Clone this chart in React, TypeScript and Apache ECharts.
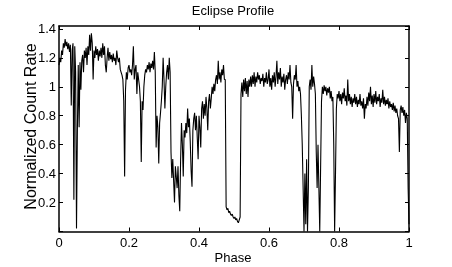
import React, { useEffect, useRef } from "react";
import * as echarts from "echarts";

const TITLE = "Eclipse Profile";
const X_NAME = "Phase";
const Y_NAME = "Normalized Count Rate";
const PHASE_STEP = 0.0025;

// Normalized count rate sampled every 0.0025 in phase
const rate000to025 = [
  1.15, 1.2, 1.17, 1.25, 1.22, 1.3, 1.27, 1.33, 1.28, 1.31, 1.26, 1.3, 1.24, 1.29, 0.87, 1.25, 1.3, 0.22, 1.28, 1.1,
  0.02, 0.7, 1.15, 0.72, 1.17, 0.98, 1.18, 1.22, 1.1, 1.25, 1.2, 1.27, 1.15, 1.28, 1.22, 1.36, 1.25, 1.37, 1.3, 1.05,
  1.25, 1.2, 1.28, 1.22, 1.26, 1.18, 1.25, 1.21, 1.27, 1.2, 1.3, 1.22, 1.28, 1.15, 1.1, 1.2, 1.27, 1.18, 1.24, 1.19,
  1.22, 1.17, 1.23, 1.18, 1.2, 1.15, 1.25, 1.2, 1.17, 1.2, 1.12, 1.1, 1.08, 1.05, 0.9, 0.38, 0.98, 1.1, 1.05, 1.13,
  1.15, 1.1, 1.12, 1.08, 1.15, 1.28, 1.05, 1.12, 1.15, 0.95, 1.1, 1.05, 1.0, 0.9, 0.48, 0.9, 0.84, 1.0, 1.08, 1.12,
];
const rate025to050 = [
  1.1, 1.15, 1.12, 1.17, 1.1, 1.16, 1.13, 1.18, 1.12, 1.24, 1.1, 0.58, 0.8, 0.72, 0.47, 0.75, 0.82, 0.9, 1.0, 1.2,
  1.05, 0.85, 1.0, 1.1, 1.15, 1.05, 1.2, 1.1, 0.55, 0.37, 0.5, 0.35, 0.2, 0.45, 0.38, 0.3, 0.45, 0.25, 0.14, 0.5,
  0.75, 0.6, 0.38, 0.7, 0.65, 0.75, 0.68, 0.85, 0.72, 0.78, 0.62, 0.42, 0.31, 0.7, 0.78, 0.82, 0.7, 0.8, 0.65, 0.5,
  0.8, 0.72, 0.58, 0.85, 0.9, 0.78, 0.88, 0.8, 0.93, 0.85, 0.7, 0.9, 0.95, 0.85, 0.92, 1.0, 0.95, 1.02, 0.97, 1.05,
  1.08, 1.02, 1.18, 1.05, 1.1, 1.03, 1.12, 1.08, 1.15, 1.05, 1.05, 0.17, 0.15, 0.16, 0.13, 0.14, 0.12, 0.11, 0.12, 0.1,
];
const rate050to075 = [
  0.09, 0.1, 0.08, 0.09, 0.07, 0.06, 0.08, 0.1, 0.95, 1.03, 0.93, 1.05, 0.97, 1.06, 0.95, 1.04, 0.93, 1.05, 1.0, 1.07,
  1.0, 1.08, 1.02, 1.1, 1.0, 1.07, 1.03, 1.1, 1.05, 1.08, 1.02, 1.06, 1.04, 1.09, 1.0, 1.06, 1.03, 1.1, 1.02, 1.05,
  1.12, 1.0, 1.06, 0.98, 1.08, 1.03, 1.1, 1.0, 1.07, 1.18, 1.02, 1.1, 1.05, 1.13, 1.0, 1.07, 1.03, 1.09, 0.98, 1.05,
  1.08, 1.02, 1.1, 1.05, 1.15, 1.03, 1.0, 0.78, 1.02, 1.08, 1.05, 1.15, 1.0, 1.04, 0.97, 1.0, 0.95, 0.8, 0.6, 0.3,
  0.0, 0.4, 0.05, 0.5, 0.0, 0.3, 1.0, 1.05, 0.98, 1.15, 1.0, 1.07, 1.02, 0.95, 0.55, 0.3, 0.6, 0.3, 0.0, 0.45,
];
const rate075to100 = [
  0.9, 1.0, 0.95, 1.01, 0.97, 1.0, 0.94, 0.99, 0.96, 1.0, 0.92, 0.97, 0.9, 0.93, 0.6, 0.0, 0.4, 0.85, 0.95, 0.92,
  0.97, 0.9, 0.95, 0.88, 0.96, 0.92, 0.99, 0.9, 0.94, 0.87, 1.05, 0.9, 0.95, 0.88, 0.93, 0.86, 0.92, 0.89, 0.95, 0.88,
  0.93, 0.86, 0.91, 0.88, 0.95, 0.87, 0.9, 0.85, 0.92, 0.78, 0.88, 0.85, 0.93, 0.87, 0.96, 0.9, 1.0, 0.88, 0.94, 0.86,
  0.95, 0.89, 0.97, 0.88, 0.93, 0.9, 0.95, 0.86, 0.92, 0.89, 0.98, 0.88, 0.93, 0.87, 0.91, 0.88, 0.92, 0.85, 0.9, 0.86,
  0.88, 0.84, 0.89, 0.83, 0.87, 0.82, 0.85, 0.8, 0.78, 0.55, 0.84, 0.87, 0.82, 0.86, 0.8, 0.84, 0.75, 0.82, 0.78, 0.3,
  0.05,
];

const FONT = "'Liberation Sans', Arial, Helvetica, sans-serif";

export default function App() {
  const ref = useRef<HTMLDivElement>(null);
  useEffect(() => {
    if (!ref.current) return;
    const chart = echarts.init(ref.current, undefined, { renderer: "svg" });
    const rate = [...rate000to025, ...rate025to050, ...rate050to075, ...rate075to100];
    const data = rate.map((v, i) => [+(i * PHASE_STEP).toFixed(4), v]);
    const xBase = {
      type: "value" as const,
      min: 0,
      max: 1,
      interval: 0.2,
      splitLine: { show: false },
      axisLine: { show: true, onZero: false, lineStyle: { color: "#000", width: 1.5 } },
      axisTick: { show: true, inside: true, length: 4, lineStyle: { color: "#000", width: 1 } },
    };
    const yBase = {
      type: "value" as const,
      min: 0,
      max: 1.42,
      interval: 0.2,
      splitLine: { show: false },
      axisLine: { show: true, onZero: false, lineStyle: { color: "#000", width: 1.5 } },
      axisTick: { show: true, inside: true, length: 4, lineStyle: { color: "#000", width: 1 } },
    };
    const fmt = (v: number) => {
      if (v === 0) return "";
      const r = Math.round(v * 10) / 10;
      if (Math.abs(r - v) > 1e-6) return "";
      return String(r);
    };
    chart.setOption({
      animation: false,
      grid: { left: 59, top: 26, width: 350, height: 205.5, containLabel: false },
      xAxis: [
        {
          ...xBase,
          position: "bottom",
          axisLabel: { show: true, color: "#000", fontSize: 13, fontFamily: FONT, margin: 4, formatter: (v: number) => String(Math.round(v * 10) / 10) },
        },
        { ...xBase, position: "top", axisLabel: { show: false } },
      ],
      yAxis: [
        {
          ...yBase,
          position: "left",
          axisLabel: { show: true, color: "#000", fontSize: 13, fontFamily: FONT, margin: 3, showMaxLabel: false, formatter: fmt },
        },
        { ...yBase, position: "right", axisLabel: { show: false } },
      ],
      series: [
        {
          type: "line",
          data,
          xAxisIndex: 0,
          yAxisIndex: 0,
          showSymbol: false,
          symbol: "none",
          lineStyle: { color: "#000", width: 1.1 },
          clip: true,
        },
      ],
      graphic: [
        {
          type: "text",
          x: 233,
          y: 10.5,
          style: { text: TITLE, fill: "#000", font: `13px ${FONT}`, align: "center", verticalAlign: "middle" },
        },
        {
          type: "text",
          x: 233,
          y: 257,
          style: { text: X_NAME, fill: "#000", font: `13px ${FONT}`, align: "center", verticalAlign: "middle" },
        },
        {
          type: "text",
          x: 30,
          y: 126.5,
          rotation: Math.PI / 2,
          style: { text: Y_NAME, fill: "#000", font: `16px ${FONT}`, align: "center", verticalAlign: "middle" },
        },
      ],
    });
    return () => chart.dispose();
  }, []);
  return <div ref={ref} style={{ position: "fixed", left: 0, top: 0, width: 452, height: 267 }} />;
}
